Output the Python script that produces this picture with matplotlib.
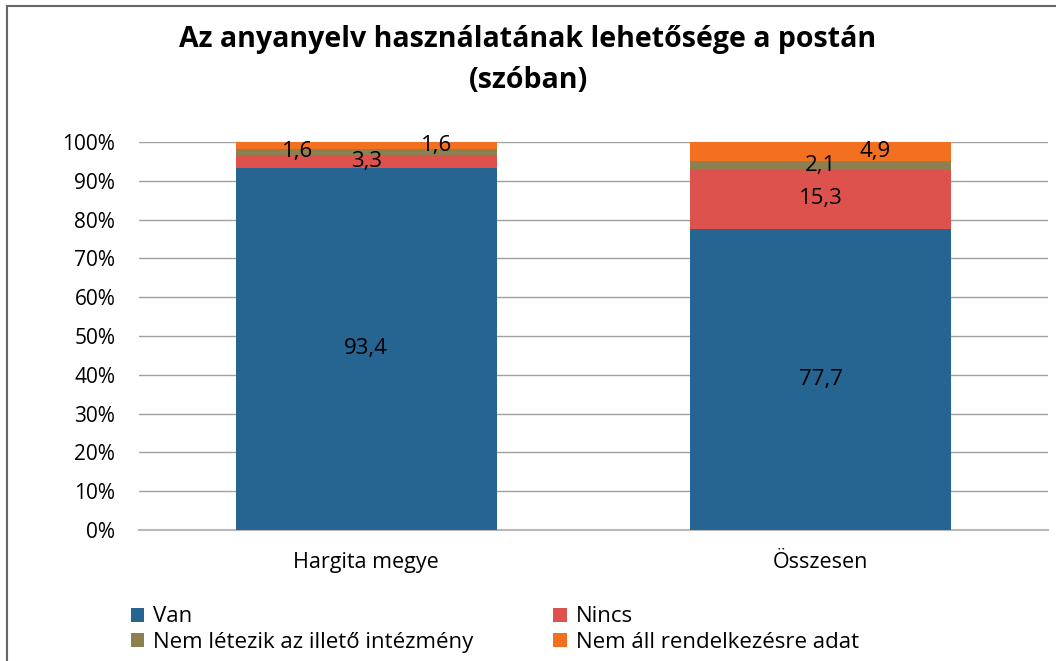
import matplotlib
matplotlib.use('Agg')
from matplotlib import pyplot as plt
from matplotlib.patches import Patch
from matplotlib.lines import Line2D

plt.rcParams['font.family'] = ['Open Sans', 'DejaVu Sans']

# data (percent)
categories = ['Hargita megye', 'Összesen']
series_names = ['Van', 'Nincs', 'Nem létezik az illető intézmény', 'Nem áll rendelkezésre adat']
van = [93.4, 77.7]
nincs = [3.3, 15.3]
nem_letezik = [1.6, 2.1]
nem_all = [1.6, 4.9]
label_text = [['93,4', '77,7'], ['3,3', '15,3'], ['1,6', '2,1'], ['1,6', '4,9']]

colors = ['#266491', '#DE524E', '#8C8050', '#F2701F']
# horizontal nudge of the small labels (like excel puts them)
nudge = [[0, 0], [0, 0], [-0.15, 0], [0.155, 0.12]]

fig = plt.figure(figsize=(10.56, 6.61), dpi=100)
ax = fig.add_axes([0.1316, 0.1982, 0.8608, 0.587])

x = [0, 1]
bottom = [0, 0]
all_series = [van, nincs, nem_letezik, nem_all]
for i, vals in enumerate(all_series):
    fr = [v / 100 for v in vals]
    ax.bar(x, fr, width=0.574, bottom=bottom, color=colors[i], zorder=3, clip_on=False)
    for j in range(2):
        ax.text(x[j] + nudge[i][j], bottom[j] + fr[j] / 2, label_text[i][j],
                ha='center', va='center', fontsize=16, color='black', zorder=5)
    bottom = [bottom[k] + fr[k] for k in range(2)]

ax.set_xlim(-0.5, 1.5)
ax.set_ylim(0, 1)
ax.set_yticks([k / 10 for k in range(11)])
ax.set_yticklabels(['%d%%' % (k * 10) for k in range(11)], fontsize=15)
ax.set_xticks(x)
ax.set_xticklabels(categories, fontsize=15.5)
ax.tick_params(axis='both', length=0)
ax.tick_params(axis='y', pad=17)
ax.tick_params(axis='x', pad=16)
ax.yaxis.grid(True, color='#A0A0A0', linewidth=1, zorder=0)
for s in ['left', 'right', 'top']:
    ax.spines[s].set_visible(False)
ax.spines['bottom'].set_color('#B8B8B8')
ax.spines['bottom'].set_linewidth(1.5)

fig.text(0.5, 1 - 40 / 661, 'Az anyanyelv használatának lehetősége a postán',
         ha='center', va='center', fontsize=20.5, fontweight='bold')
fig.text(0.5, 1 - 80 / 661, '(szóban)',
         ha='center', va='center', fontsize=20.5, fontweight='bold')

handles = [Patch(facecolor=c, edgecolor='none') for c in colors]
order = [0, 2, 1, 3]
fig.legend([handles[k] for k in order], [series_names[k] for k in order], ncol=2,
           loc='lower left', bbox_to_anchor=(0.105, -0.018), frameon=False, fontsize=16,
           handlelength=0.6, handleheight=0.6, handletextpad=0.4, columnspacing=3.6,
           labelspacing=0.2)

# chart border (left and top visible)
fig.add_artist(Line2D([0.0066, 0.0066], [0, 0.991], color='#666666', linewidth=1.5))
fig.add_artist(Line2D([0.0066, 1.0], [0.991, 0.991], color='#666666', linewidth=1.5))

fig.savefig('out.png', dpi=100)
